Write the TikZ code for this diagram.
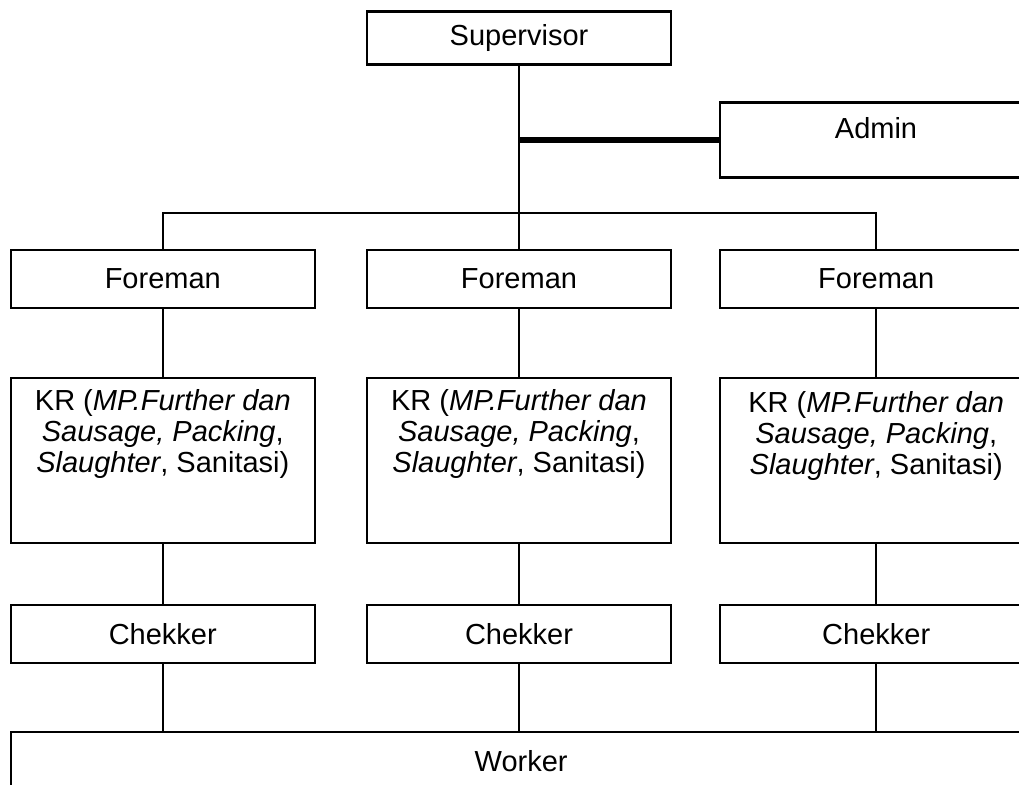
\documentclass[tikz,border=0pt]{standalone}
\usepackage{fontspec}
\setmainfont{Liberation Sans}
\usetikzlibrary{positioning}

\begin{document}
\begin{tikzpicture}[
    x=1pt, y=-1pt,
    mybox/.style={draw, line width=2.2pt, inner sep=0pt, minimum width=304pt, minimum height=58pt, font=\fontsize{29}{31}\selectfont},
    mytext/.style={align=center, inner sep=0pt, font=\fontsize{29}{31}\selectfont},
    myline/.style={line width=2.2pt},
    mythick/.style={line width=5.5pt},
]

\useasboundingbox (0,0) rectangle (1019,784);
\clip (0,0) rectangle (1019,784);

% Top
\node[mybox, minimum height=53pt] (sup) at (519,38) {Supervisor};
\node[mybox, minimum width=312pt, minimum height=75pt, text depth=24pt] (admin) at (876,140) {Admin};
\coordinate (bus) at (519,213);

% Foreman row
\node[mybox, below=183pt of sup] (fm2) {Foreman};
\node[mybox, left=50pt of fm2] (fm1) {Foreman};
\node[mybox, minimum width=312pt, right=47pt of fm2] (fm3) {Foreman};

% KR row
\node[mybox, minimum height=165pt, below=68pt of fm1] (kr1) {};
\node[mybox, minimum height=165pt, below=68pt of fm2] (kr2) {};
\node[mybox, minimum width=312pt, minimum height=165pt, below=68pt of fm3] (kr3) {};

% text nodes
\node[mytext, below=12pt of kr1.north] (kr1t) {KR (\textit{MP.Further dan}\\\textit{Sausage, Packing},\\\textit{Slaughter}, Sanitasi)};
\node[mytext, below=12pt of kr2.north] (kr2t) {KR (\textit{MP.Further dan}\\\textit{Sausage, Packing},\\\textit{Slaughter}, Sanitasi)};
\node[mytext, below=14pt of kr3.north] (kr3t) {KR (\textit{MP.Further dan}\\\textit{Sausage, Packing},\\\textit{Slaughter}, Sanitasi)};

% Chekker row
\node[mybox, below=60pt of kr1] (ck1) {Chekker};
\node[mybox, below=60pt of kr2] (ck2) {Chekker};
\node[mybox, minimum width=312pt, below=60pt of kr3] (ck3) {Chekker};

\node[mybox, minimum width=1020pt, anchor=north west] (worker) at (10,731) {Worker};

% Connectors
\draw[myline] (sup.south) -- (bus);
\draw[mythick] (admin.west) -- (admin.west -| sup.south);
\draw[myline] (fm1.north) |- (bus) -| (fm3.north);
\draw[myline] (bus) -- (fm2.north);
\draw[myline] (fm1) -- (kr1);
\draw[myline] (fm2) -- (kr2);
\draw[myline] (fm3) -- (kr3);
\draw[myline] (kr1) -- (ck1);
\draw[myline] (kr2) -- (ck2);
\draw[myline] (kr3) -- (ck3);
\draw[myline] (ck1.south) -- (ck1.south |- worker.north);
\draw[myline] (ck2.south) -- (ck2.south |- worker.north);
\draw[myline] (ck3.south) -- (ck3.south |- worker.north);

\end{tikzpicture}
\end{document}
